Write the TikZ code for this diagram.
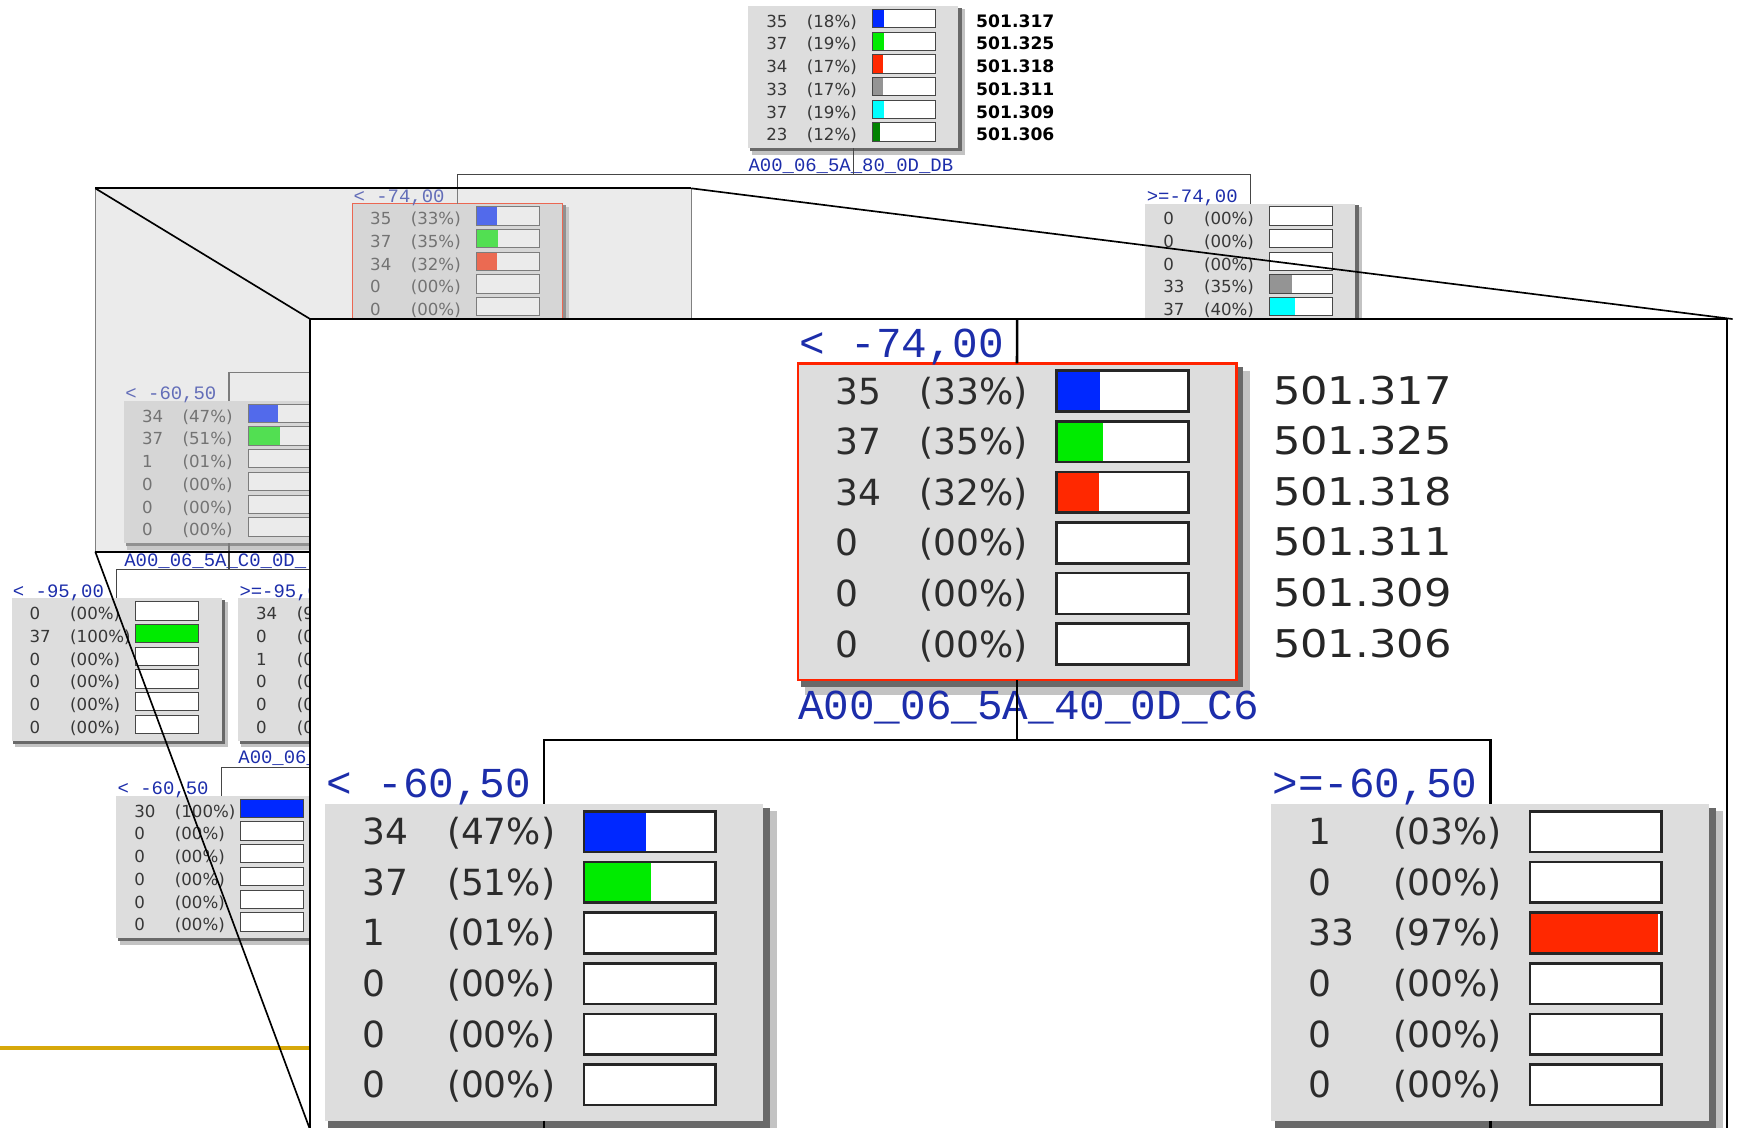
\documentclass[tikz,border=0pt]{standalone}
\usepackage{fontspec}
\setmainfont{DejaVu Sans}
\newfontfamily\labfont{Liberation Mono}
\newfontfamily\widefont[FakeStretch=1.13]{DejaVu Sans}
\definecolor{cblue}{RGB}{0,40,255}
\definecolor{cgreen}{RGB}{0,235,0}
\definecolor{cred}{RGB}{255,40,0}
\definecolor{cgray}{RGB}{148,148,148}
\definecolor{ccyan}{RGB}{0,255,255}
\definecolor{cdkgreen}{RGB}{0,130,0}
\definecolor{boxgray}{RGB}{221,221,221}
\definecolor{shdark}{RGB}{105,105,105}
\definecolor{shlight}{RGB}{195,195,195}
\definecolor{rowgray}{RGB}{55,55,55}
\definecolor{labblue}{RGB}{28,45,170}
\definecolor{conngray}{RGB}{70,70,70}
\definecolor{goldc}{RGB}{215,168,10}
\definecolor{selred}{RGB}{255,35,0}
\definecolor{fadegray}{RGB}{205,205,205}

\def\DTxsS{1}\def\DTysS{1}\def\DTxsB{2.086}\def\DTysB{2.228}
\def\DTboS{0.3}\def\DTboB{3}
\def\DTbwS{1.2pt}\def\DTbwB{2.6pt}

\tikzset{
 barlineS/.style={draw=conngray, line width=0.9pt},
 barlineB/.style={draw=black!85, line width=2.3pt},
 rowtextS/.style={font=\fontsize{15}{15}\selectfont, text=rowgray, inner sep=0pt},
 rowtextB/.style={font=\fontsize{32.5}{32.5}\selectfont, text=rowgray!80!black, inner sep=0pt},
 righttextS/.style={font=\fontsize{15.5}{15.5}\selectfont\bfseries, text=black, inner sep=0pt},
 righttextB/.style={font=\widefont\fontsize{34.5}{34.5}\selectfont, text=black!85, inner sep=0pt},
 labS/.style={font=\labfont\fontsize{17.1}{17.1}\selectfont, text=labblue, inner sep=0pt, anchor=base west},
 labB/.style={font=\labfont\fontsize{38.5}{38.5}\selectfont, text=labblue, inner sep=0pt, anchor=base west},
 connS/.style={draw=conngray, line width=1.1pt},
 connB/.style={draw=black, line width=2.3pt},
 zoomline/.style={draw=black, line width=1.5pt},
}

\newcommand\DTnode[6]{%
 \begin{scope}[shift={(#2,#3)}, xscale=\csname DTxs#4\endcsname, yscale=\csname DTys#4\endcsname]
  \fill[shlight] (3,3) rectangle (195.6,134.3);
  \fill[shdark] (1.5,1.5) rectangle (192.6,131.3);
  \path[fill=boxgray, draw=#5, line width=\csname DTbw#4\endcsname] (0,0) rectangle (189.6,128.3);
  \coordinate (#1-top) at (94.8,0);
  \coordinate (#1-bot) at (94.8,128.3);
  \coordinate (#1-tl) at (0,0);
  \coordinate (#1-bl) at (0,128.3);
  \foreach \c/\p/\f/\col [count=\i from 0] in {#6}{%
    \pgfmathsetmacro\yt{3+20.5*\i}%
    \pgfmathsetmacro\yb{\yt+16.5}%
    \pgfmathsetmacro\xf{112+57*\f/100}%
    \fill[white] (112,\yt) rectangle (169,\yb);
    \ifnum\f>0 \fill[\col] (112,\yt) rectangle (\xf,\yb);\fi
    \draw[barline#4] (112,\yt) rectangle (169,\yb);
    \node[rowtext#4, anchor=base west] (#1-c\i) at (16,\yb-\csname DTbo#4\endcsname) {\c};
    \node[rowtext#4, anchor=base west] (#1-p\i) at (52.7,\yb-\csname DTbo#4\endcsname) {(\p\%)};
  }
 \end{scope}}

\newcommand\DTright[5]{%
 \begin{scope}[shift={(#2,#3)}, xscale=\csname DTxs#4\endcsname, yscale=\csname DTys#4\endcsname]
  \foreach \t [count=\i from 0] in {#5}{%
    \pgfmathsetmacro\yb{19.5+20.5*\i}%
    \node[righttext#4, anchor=base west] (#1-r\i) at (205.5,\yb-\csname DTbo#4\endcsname) {\t};
  }
 \end{scope}}

\begin{document}
\begin{tikzpicture}[x=1pt,y=-1pt]
\useasboundingbox (0,0) rectangle (1568,1018);
\clip (0,0) rectangle (1568,1018);

% ---------- underlying tree ----------
\DTnode{root}{675.5}{5.4}{S}{none}{35/18/18/cblue,37/19/19/cgreen,34/17/17/cred,33/17/17/cgray,37/19/19/ccyan,23/12/12/cdkgreen}
\DTright{root}{675.5}{5.4}{S}{501.317,501.325,501.318,501.311,501.309,501.306}
\node[labS] (root-lab) at ([yshift=-20.8pt]root-bl) {A00\_06\_5A\_80\_0D\_DB};

\DTnode{L}{318}{183.7}{S}{selred}{35/33/33/cblue,37/35/35/cgreen,34/32/32/cred,0/00/0/white,0/00/0/white}
\node[labS] (L-lab) at ([xshift=1pt,yshift=1pt]L-tl) {< -74,00};

\DTnode{R}{1034}{183.7}{S}{none}{0/00/0/white,0/00/0/white,0/00/0/white,33/35/35/cgray,37/40/40/ccyan}
\node[labS] (R-lab) at ([xshift=1pt,yshift=1pt]R-tl) {>=-74,00};

\DTnode{LL}{112}{361.9}{S}{none}{34/47/47/cblue,37/51/51/cgreen,1/01/0/white,0/00/0/white,0/00/0/white,0/00/0/white}
\node[labS] (LL-lab) at ([xshift=1pt,yshift=1pt]LL-tl) {< -60,50};
\node[labS] (LL-lab2) at ([yshift=-20.8pt]LL-bl) {A00\_06\_5A\_C0\_0D\_};

\DTnode{LLL}{10.5}{540.2}{S}{none}{0/00/0/white,37/100/100/cgreen,0/00/0/white,0/00/0/white,0/00/0/white,0/00/0/white}
\node[labS] (LLL-lab) at ([xshift=1pt,yshift=1pt]LLL-tl) {< -95,00};

\DTnode{LLR}{215}{540.2}{S}{none}{34/97/97/cblue,0/00/0/white,1/03/0/white,0/00/0/white,0/00/0/white,0/00/0/white}
\node[labS] (LLR-lab) at ([xshift=1pt,yshift=1pt]LLR-tl) {>=-95,00};
\node[labS] (LLR-lab2) at ([yshift=-20.8pt]LLR-bl) {A00\_06\_};

\DTnode{LLRL}{105}{718.5}{S}{none}{30/100/100/cblue,0/00/0/white,0/00/0/white,0/00/0/white,0/00/0/white,0/00/0/white}
\node[labS] (LLRL-lab) at ([xshift=1pt,yshift=1pt]LLRL-tl) {< -60,50};

\coordinate (LR-top) at (640,361.9);
\coordinate (LLRR-top) at (420,718.5);

\draw[connS] (root-bot) -- ++(0,24) -| (L-top);
\draw[connS] (root-bot) -- ++(0,24) -| (R-top);
\draw[connS] (L-bot) -- ++(0,24) -| (LL-top);
\draw[connS] (L-bot) -- ++(0,24) -| (LR-top);
\draw[connS] (LL-bot) -- ++(0,24) -| (LLL-top);
\draw[connS] (LL-bot) -- ++(0,24) -| (LLR-top);
\draw[connS] (LLR-bot) -- ++(0,24) -| (LLRL-top);
\draw[connS] (LLR-bot) -- ++(0,24) -| (LLRR-top);

\draw[line width=3.4pt, goldc] (0,946) -- (280,946);

% ---------- zoom source overlay ----------
\fill[fadegray, opacity=0.4] (86,170) rectangle (624,498);
\draw[line width=1pt, gray] (86,170) rectangle (624,498);
\draw[zoomline] (86,170) -- (624,170);
\draw[zoomline] (86,498) -- (280,498);

% ---------- magnified view ----------
\path[fill=white, draw=black, line width=1.4pt] (280,288) rectangle (1559,1040);
\coordinate (MT) at (918.1,288);

\DTnode{ML}{720.3}{328}{B}{selred}{35/33/33/cblue,37/35/35/cgreen,34/32/32/cred,0/00/0/white,0/00/0/white,0/00/0/white}
\DTright{ML}{720.3}{328}{B}{501.317,501.325,501.318,501.311,501.309,501.306}
\node[labB] (ML-lab) at ([xshift=1pt,yshift=5.5pt]ML-tl) {< -74,00};
\node[labB] (ML-lab2) at ([yshift=-36pt]ML-bl) {A00\_06\_5A\_40\_0D\_C6};

\DTnode{MLL}{293.4}{725.8}{B}{none}{34/47/47/cblue,37/51/51/cgreen,1/01/0/white,0/00/0/white,0/00/0/white,0/00/0/white}
\node[labB] (MLL-lab) at ([xshift=1pt,yshift=5.5pt]MLL-tl) {< -60,50};

\DTnode{MLR}{1147.5}{725.8}{B}{none}{1/03/0/white,0/00/0/white,33/97/97/cred,0/00/0/white,0/00/0/white,0/00/0/white}
\node[labB] (MLR-lab) at ([xshift=1pt,yshift=5.5pt]MLR-tl) {>=-60,50};

\draw[connB] (MT) -- (ML-top);
\draw[connB] (ML-bot) -- ++(0,54) -| (MLL-top);
\draw[connB] (ML-bot) -- ++(0,54) -| (MLR-top);
\draw[connB] (MLL-bot) -- ++(0,30);
\draw[connB] (MLR-bot) -- ++(0,30);

% ---------- zoom lines ----------
\draw[zoomline] (86,170) -- (280,288);
\draw[zoomline] (624,170) -- (1564,288);
\draw[zoomline] (86,498) -- (280,1020);
\end{tikzpicture}
\end{document}
